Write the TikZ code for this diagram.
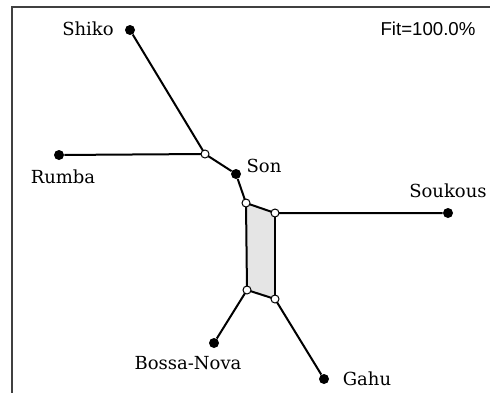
\documentclass[tikz,border=0pt]{standalone}
\usepackage{fontspec}
\setmainfont{DejaVu Serif}
\newfontfamily\fitfont{Liberation Sans}

\begin{document}
\begin{tikzpicture}[x=0.75pt, y=-0.75pt,
    taxon/.style={circle, fill=black, inner sep=0pt, minimum size=7.5pt},
    split/.style={circle, draw=black, fill=white, line width=0.75pt, inner sep=0pt, minimum size=6pt},
    edge/.style={line width=1.5pt},
    lbl/.style={font=\fontsize{13.5}{15}\selectfont, inner sep=0pt}]
    \useasboundingbox (0,0) rectangle (490,393);

    % --- Rahmen ---
    \draw[line width=1.2pt, black!75] (12,393) -- (12,7) -- (490,7);
    \node[font=\fitfont\fontsize{14}{16}\selectfont, inner sep=0pt] (fit) at (428,29) {Fit=100.0\%};

    % --- Knoten ---
    % Blaetter
    \node[taxon] (shiko) at (130,30) {};
    \node[taxon] (rumba) at (59,155) {};
    \node[taxon] (son) at (236,174) {};
    \node[taxon] (soukous) at (448,213) {};
    \node[taxon] (bossa) at (214,343) {};
    \node[taxon] (gahu) at (324,379) {};
    % innere Knoten
    \coordinate (a) at (205,154);
    \coordinate (b) at (246,203);
    \coordinate (c) at (275,213);
    \coordinate (d) at (247,290);
    \coordinate (e) at (275,299);

    % --- Kanten ---
    \fill[black!10] (b) -- (c) -- (e) -- (d) -- cycle;
    \draw[edge] (shiko) -- (a);
    \draw[edge] (rumba) -- (a);
    \draw[edge] (a) -- (son);
    \draw[edge] (son) -- (b);
    \draw[edge] (b) -- (c) -- (soukous);
    \draw[edge] (b) -- (d);
    \draw[edge] (c) -- (e);
    \draw[edge] (d) -- (e);
    \draw[edge] (d) -- (bossa);
    \draw[edge] (e) -- (gahu);
    \foreach \p in {a,b,c,d,e}
        \node[split] at (\p) {};

    % --- Beschriftungen ---
    \node[lbl] (lshiko) at (88,29) {Shiko};
    \node[lbl] (lrumba) at (63,177) {Rumba};
    \node[lbl] (lson) at (264,166) {Son};
    \node[lbl] (lsoukous) at (448,191) {Soukous};
    \node[lbl] (lbossa) at (188,363) {Bossa-Nova};
    \node[lbl] (lgahu) at (367,379) {Gahu};
\end{tikzpicture}
\end{document}
